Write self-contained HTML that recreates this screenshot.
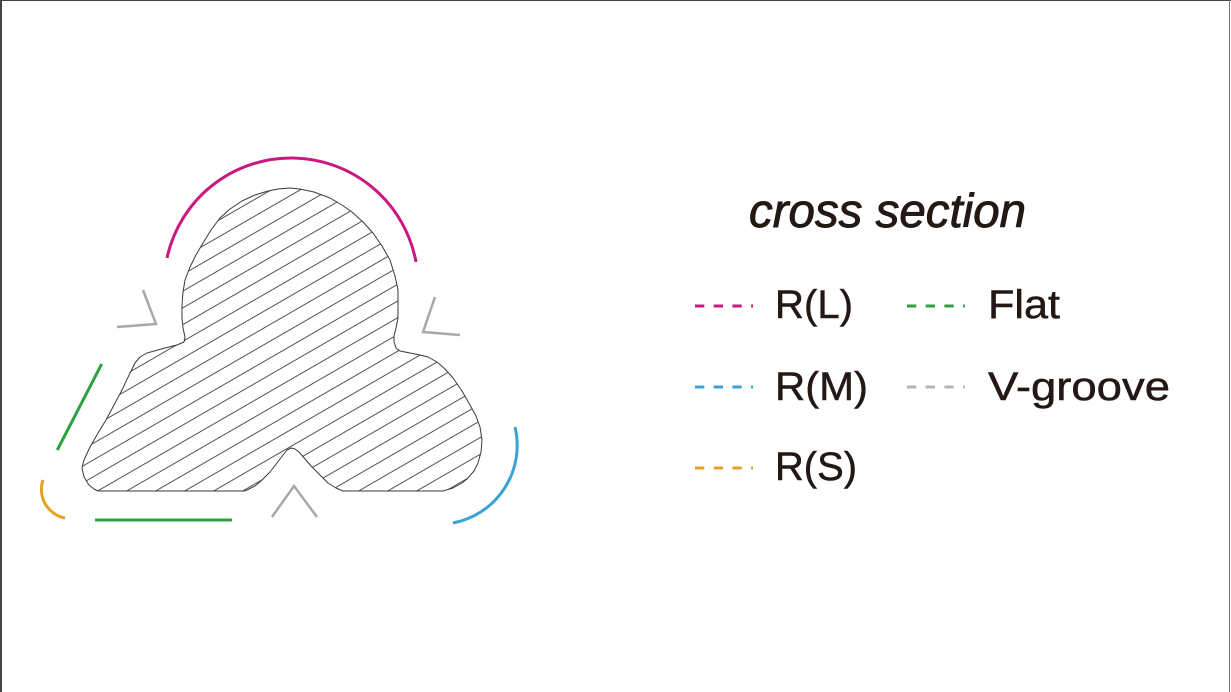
<!DOCTYPE html>
<html>
<head>
<meta charset="utf-8">
<style>
  html, body { margin:0; padding:0; background:#fff; }
  body { width:1231px; height:692px; overflow:hidden; position:relative; }
  svg { position:absolute; left:0; top:0; }
  .t { font-family: "Liberation Sans", "Noto Sans CJK JP", sans-serif; fill:#231815; stroke:#231815; }
</style>
</head>
<body>
<svg width="1231" height="692" viewBox="0 0 1231 692" xmlns="http://www.w3.org/2000/svg">
  <defs>
    <pattern id="hatch" width="40" height="14.5" patternUnits="userSpaceOnUse" patternTransform="rotate(-30)">
      <line x1="0" y1="10.1" x2="40" y2="10.1" stroke="#3a3a3a" stroke-width="0.9"/>
    </pattern>
  </defs>

  <!-- frame -->
  <line x1="0" y1="0.5" x2="1231" y2="0.5" stroke="#444" stroke-width="1"/>
  <line x1="1" y1="0" x2="1" y2="692" stroke="#444" stroke-width="2"/>
  <line x1="1229.5" y1="0" x2="1229.5" y2="692" stroke="#777" stroke-width="1"/>

  <!-- cross-section shape -->
  <path d="M98 491 L244 491 L247 490 L255 486 L262 480 L270 472 L277 463 L283 455 L287 450 L291 448 L295 449 L299 452 L305 459 L312 467 L320 475 L328 483 L336 488 L343 491
           L443 491 L453 488 L462 483 L467 479 L474 471 L478 463 L481 452 L482 440 L480 427 L476 416 L470 405 L462 391 L453 378 L445 369 L437 362 L428 357 L420 355 L410 353 L400 351 L396 348 L394 342 L394 336 L396 328 L398 318 L398 305 L398 290 L395 276 L390 260 L382 246 L373 233 L363 222 L352 212 L342 205 L330 198 L314 192 L300 189 L290 188 L278 189 L268 191 L255 195 L242 201 L230 209 L220 218 L211 230 L203 243 L196 255 L190 267 L185 280 L183 292 L182 305 L182 318 L183 328 L185 337 L184 342 L177 345 L165 348 L147 353 L140 357 L135 363 L130 373 L122 390 L114 405 L106 420 L98 433 L90 447 L84 460 L82 468 L84 477 L89 485 L94 489 Z"
        fill="url(#hatch)" stroke="#3a3a3a" stroke-width="1" stroke-linejoin="round"/>

  <!-- R(L) magenta arc -->
  <path d="M167 258 A127 127 0 0 1 416 262" fill="none" stroke="#cc1780" stroke-width="3"/>
  <!-- R(M) blue arc -->
  <path d="M515 427 A79 79 0 0 1 453 523" fill="none" stroke="#3aa2d4" stroke-width="3"/>
  <!-- R(S) orange arc -->
  <path d="M43 480 A29 29 0 0 0 65 518" fill="none" stroke="#e6a024" stroke-width="3"/>
  <!-- Flat green -->
  <line x1="101.7" y1="364" x2="57.3" y2="450" stroke="#2ea23f" stroke-width="3"/>
  <line x1="95" y1="520" x2="232" y2="520" stroke="#2ea23f" stroke-width="3"/>
  <!-- V-grooves gray -->
  <polyline points="143,290 156,324 117,327" fill="none" stroke="#a8a8a8" stroke-width="2.5"/>
  <polyline points="435,297 423,332 460,335" fill="none" stroke="#a8a8a8" stroke-width="2.5"/>
  <polyline points="272,517 294,486 317,517" fill="none" stroke="#a8a8a8" stroke-width="2.5"/>

  <!-- title -->
  <text class="t" x="749" y="227" font-size="47" font-style="italic" stroke-width="0.9" textLength="277" lengthAdjust="spacingAndGlyphs">cross section</text>

  <!-- legend lines -->
  <g stroke-width="3" stroke-dasharray="9.3 9.4">
    <line x1="695" y1="306" x2="753" y2="306" stroke="#cc1780"/>
    <line x1="695" y1="387" x2="753" y2="387" stroke="#3aa2d4"/>
    <line x1="695" y1="468" x2="753" y2="468" stroke="#e6a024"/>
    <line x1="907" y1="306" x2="965" y2="306" stroke="#2ea23f"/>
    <line x1="907" y1="387" x2="965" y2="387" stroke="#b4b4b4"/>
  </g>

  <!-- legend labels -->
  <text class="t" x="775" y="318" font-size="40" stroke-width="0.5" textLength="78" lengthAdjust="spacingAndGlyphs">R(L)</text>
  <text class="t" x="988" y="318" font-size="40" stroke-width="0.5" textLength="72" lengthAdjust="spacingAndGlyphs">Flat</text>
  <text class="t" x="775" y="400" font-size="40" stroke-width="0.5" textLength="93" lengthAdjust="spacingAndGlyphs">R(M)</text>
  <text class="t" x="988" y="400" font-size="40" stroke-width="0.5" textLength="182" lengthAdjust="spacingAndGlyphs">V-groove</text>
  <text class="t" x="775" y="480" font-size="40" stroke-width="0.5" textLength="82" lengthAdjust="spacingAndGlyphs">R(S)</text>
</svg>
</body>
</html>
